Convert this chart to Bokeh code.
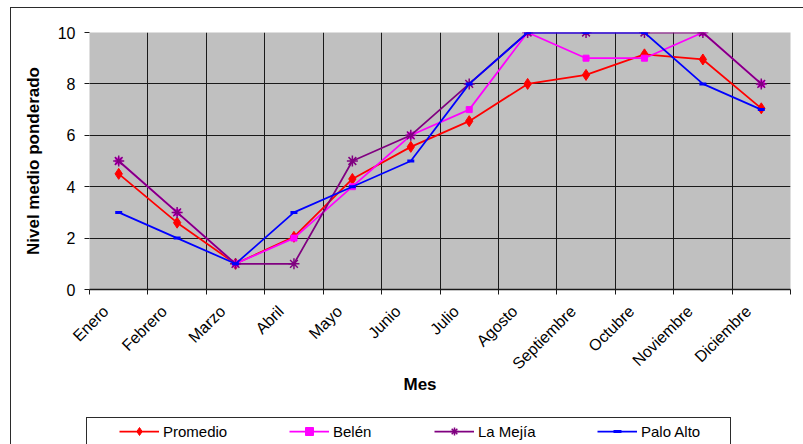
import math

from bokeh.plotting import figure
from bokeh.layouts import column
from bokeh.models import (Range1d, FixedTicker, Legend, LegendItem, Title,
                          LinearAxis, Grid, InlineStyleSheet)
from bokeh.embed import file_html
from bokeh.resources import INLINE

# Nivel medio ponderado por mes y estación
meses = ["Enero", "Febrero", "Marzo", "Abril", "Mayo", "Junio", "Julio",
         "Agosto", "Septiembre", "Octubre", "Noviembre", "Diciembre"]
promedio = [4.5, 2.6, 1.0, 2.05, 4.3, 5.55, 6.55, 8.0, 8.35, 9.15, 8.95, 7.05]
belen = [5, 3, 1, 2, 4, 6, 7, 10, 9, 9, 10, 8]
la_mejia = [5, 3, 1, 1, 5, 6, 8, 10, 10, 10, 10, 8]
palo_alto = [3, 2, 1, 3, 4, 5, 8, 10, 10, 10, 8, 7]
y_ticks = [0, 2, 4, 6, 8, 10]

FONT = "Liberation Sans"
GRIS_OSCURO = "#1a1a1a"
MARGEN_IZQ = 89
GROSOR_LINEA = 1.75

# series styles: name, colour, marker, marker size, marker line width
estilos = [("Promedio", "#FF0000", "diamond", 11, 1),
           ("Belén", "#FF00FF", "square", 6, 1),
           ("La Mejía", "#800080", "asterisk", 11, 1.5),
           ("Palo Alto", "#0000FF", "dash", 7, 3)]
series = [promedio, belen, la_mejia, palo_alto]

n = len(meses)
centros = [i + 0.5 for i in range(n)]     # each month sits in the middle of its slot
limites = list(range(n + 1))              # slot boundaries for ticks and grid

# month names end a little left of their slot centre: the label axis runs
# on a copy of the x range nudged by that amount
ancho_frame = 701
desplazamiento = 13 * n / ancho_frame

p = figure(width=803, height=405, output_backend="svg", toolbar_location=None,
           x_range=Range1d(0, n), y_range=Range1d(0, 10),
           x_axis_location=None,
           min_border_left=MARGEN_IZQ, min_border_right=13,
           min_border_top=32, min_border_bottom=116)
p.extra_x_ranges["etiquetas"] = Range1d(desplazamiento, n + desplazamiento)

p.background_fill_color = "#C0C0C0"
p.border_fill_color = "white"
p.outline_line_color = None

# x axis: short ticks at slot boundaries, rotated month names
xaxis = LinearAxis(x_range_name="etiquetas",
                   ticker=FixedTicker(ticks=centros,
                                      minor_ticks=[b + desplazamiento for b in limites]),
                   major_label_overrides={c: m for c, m in zip(centros, meses)},
                   major_label_orientation=math.pi / 4,
                   major_label_standoff=14,
                   major_label_text_font=FONT,
                   major_label_text_font_size="16px",
                   major_label_text_color="black",
                   major_tick_line_color=None,
                   major_tick_in=0, major_tick_out=0,
                   minor_tick_in=0, minor_tick_out=5,
                   minor_tick_line_color=GRIS_OSCURO,
                   axis_line_color=GRIS_OSCURO, axis_line_width=1.5)
p.add_layout(xaxis, "below")

p.add_layout(Grid(dimension=0, ticker=FixedTicker(ticks=limites),
                  grid_line_color=GRIS_OSCURO, grid_line_width=1))

# y axis
p.yaxis.ticker = FixedTicker(ticks=y_ticks)
p.yaxis.axis_line_color = None
p.yaxis.major_tick_out = 5
p.yaxis.major_tick_in = 0
p.yaxis.minor_tick_line_color = None
p.yaxis.major_tick_line_color = GRIS_OSCURO
p.yaxis.major_label_standoff = 9
p.yaxis.major_label_text_font = FONT
p.yaxis.major_label_text_font_size = "16px"
p.yaxis.major_label_text_color = "black"
p.yaxis.axis_label = "Nivel medio ponderado"
p.yaxis.axis_label_text_font = FONT
p.yaxis.axis_label_text_font_size = "17px"
p.yaxis.axis_label_text_font_style = "bold"
p.yaxis.axis_label_text_color = "black"
p.yaxis.axis_label_standoff = 12

p.ygrid.grid_line_color = GRIS_OSCURO
p.ygrid.grid_line_width = 1

# series lines and markers
for valores, (nombre, color, marcador, tam, grosor) in zip(series, estilos):
    p.line(centros, valores, line_color=color, line_width=GROSOR_LINEA)
    p.scatter(centros, valores, marker=marcador, size=tam,
              line_color=color, fill_color=color, line_width=grosor)

# x axis title, under the labels and slightly left of centre
p.add_layout(Title(text="Mes", align="left", offset=314, standoff=-14,
                   vertical_align="top",
                   text_font=FONT, text_font_size="17px",
                   text_font_style="bold", text_color="black"), "below")

# legend strip underneath the chart; its frame lines up with the chart's,
# so entry positions are given from the chart's left edge
leg = figure(width=803, height=39, output_backend="svg", toolbar_location=None,
             x_range=Range1d(0, n), y_range=Range1d(0, 10),
             x_axis_location=None, y_axis_location=None,
             min_border=0, min_border_left=0, min_border_right=0,
             min_border_top=0, min_border_bottom=0)
leg.outline_line_color = None
leg.background_fill_color = "white"
leg.border_fill_color = "white"
leg.grid.visible = False

posiciones = [119, 289, 434, 597]        # where each legend entry starts
for x0, valores, (nombre, color, marcador, tam, grosor) in zip(posiciones, series, estilos):
    rl = leg.line(centros, valores, line_color=color, line_width=GROSOR_LINEA,
                  visible=False)
    rm = leg.scatter(centros, valores, marker=marcador, size=tam,
                     line_color=color, fill_color=color, line_width=grosor,
                     visible=False)
    leg.add_layout(Legend(items=[LegendItem(label=nombre, renderers=[rl, rm])],
                          location=(x0 - MARGEN_IZQ, 3),
                          orientation="horizontal",
                          glyph_width=40, glyph_height=20, label_standoff=4,
                          label_height=20, padding=0, margin=0, spacing=0,
                          border_line_color=None, background_fill_alpha=0,
                          inactive_fill_alpha=0,
                          label_text_font=FONT, label_text_font_size="15px",
                          label_text_color="black"), "center")

layout = column(p, leg, spacing=0)

# chart border and legend frame
layout.stylesheets = [InlineStyleSheet(css="""
:host { position: relative; }
:host::before {
  content: ""; position: absolute; left: 10px; top: 7px;
  width: 793px; height: 437px; box-sizing: border-box;
  border-left: 1.5px solid #2b2b2b; border-top: 1.5px solid #2b2b2b;
  pointer-events: none; z-index: 5;
}
:host::after {
  content: ""; position: absolute; left: 86px; top: 417px;
  width: 645px; height: 27px; box-sizing: border-box;
  border: 1px solid #2b2b2b; border-bottom: none;
  pointer-events: none; z-index: 5;
}
""")]

open("out.html", "w").write(file_html(layout, INLINE))
